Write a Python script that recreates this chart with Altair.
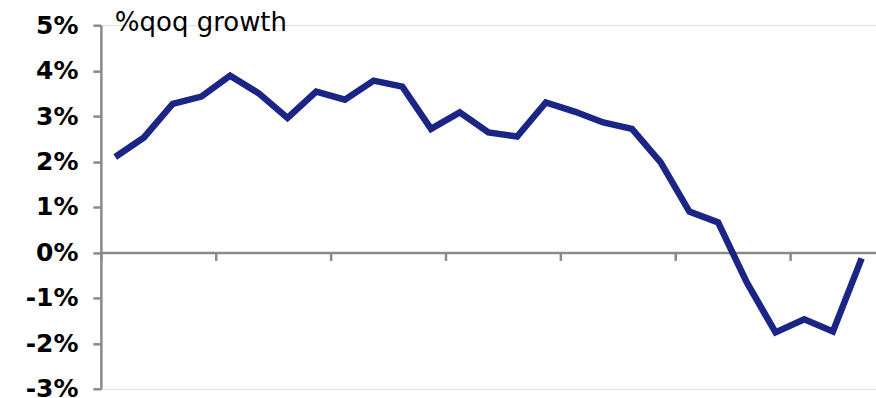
import altair as alt
import pandas as pd

# Quarter-on-quarter growth, % (27 consecutive quarters)
quarters = list(range(1, 28))
growth = [2.10, 2.53, 3.27, 3.43, 3.89, 3.50, 2.96, 3.54, 3.36, 3.78,
          3.65, 2.72, 3.08, 2.64, 2.55, 3.30, 3.10, 2.86, 2.72, 1.98,
          0.90, 0.66, -0.66, -1.76, -1.47, -1.74, -0.13]
y_ticks = [-3, -2, -1, 0, 1, 2, 3, 4, 5]
year_marks = [0, 4, 8, 12, 16, 20, 24]

df = pd.DataFrame({"q": quarters, "pos": [q - 0.5 for q in quarters], "g": growth})

W, H = 776, 364
AXIS_GREY = "#8a8a8a"
FONT = "DejaVu Sans"

x_enc = alt.X(
    "pos:Q",
    scale=alt.Scale(domain=[0, len(quarters)], nice=False, zero=False),
    axis=alt.Axis(
        values=year_marks, labels=False, title=None, grid=False,
        domainColor=AXIS_GREY, domainWidth=2.5, tickColor=AXIS_GREY,
        tickWidth=2.5, tickSize=8, offset=-H * 3 / 8,
    ),
)
y_enc = alt.Y(
    "g:Q",
    scale=alt.Scale(domain=[-3, 5], nice=False),
    axis=alt.Axis(
        values=y_ticks, format="d", labelExpr="datum.value + '%'", title=None,
        grid=False, domainColor=AXIS_GREY, domainWidth=2.5, tickColor=AXIS_GREY,
        tickWidth=2.5, tickSize=8, labelPadding=15, labelFont=FONT,
        labelFontWeight="bold", labelFontSize=25, labelColor="#000000",
    ),
)

line = alt.Chart(df).mark_line(
    color="#1b2585", strokeWidth=6.5, strokeJoin="miter"
).encode(x=x_enc, y=y_enc)

label = alt.Chart(pd.DataFrame({"t": ["%qoq growth"]})).mark_text(
    align="left", baseline="middle", font=FONT, fontSize=26, color="#000000"
).encode(text="t:N", x=alt.value(14), y=alt.value(-2))

chart = alt.layer(line, label).properties(
    width=W, height=H,
    autosize=alt.AutoSizeParams(type="none"),
    padding={"left": 101, "top": 25, "right": 0, "bottom": 9},
).configure_view(stroke=None).configure(background="white")

chart.save("out.html", embed_options={"renderer": "svg", "actions": False})
